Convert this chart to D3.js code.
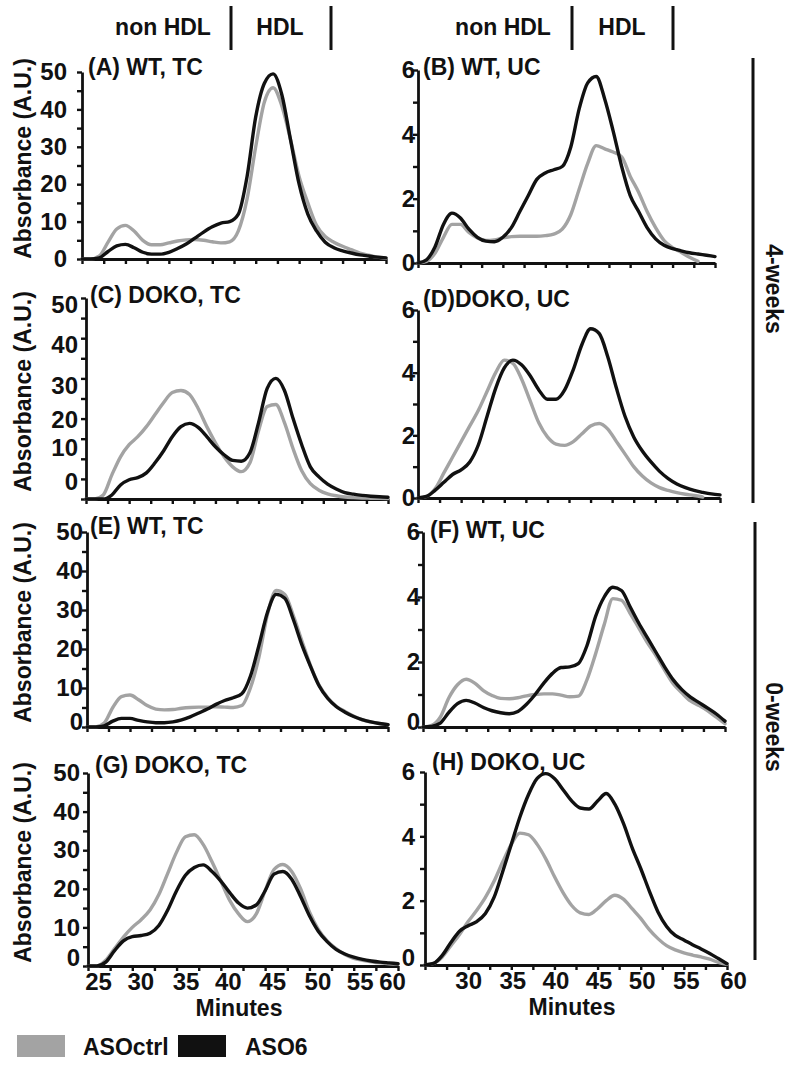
<!DOCTYPE html>
<html>
<head>
<meta charset="utf-8">
<script src="https://cdn.jsdelivr.net/npm/d3@7"></script>
<style>
  html, body { margin: 0; padding: 0; background: #fff; }
  svg text { font-family: "Liberation Sans", Arial, sans-serif; font-weight: bold; fill: #111; }
</style>
</head>
<body>
<svg id="chart" width="795" height="1066"></svg>
<script>
// ---------- data ----------
const minutes = [25,26,27,28,29,30,31,32,33,34,35,36,37,38,39,40,41,42,43,44,45,46,47,48,49,50,51,52,53,54,55,56,57,58,59,60];

const seriesNames = ["ASOctrl", "ASO6"];
const panelTitles = ["(A) WT, TC", "(B) WT, UC", "(C) DOKO, TC", "(D)DOKO, UC", "(E) WT, TC", "(F) WT, UC", "(G) DOKO, TC", "(H) DOKO, UC"];

// (A) WT, TC
const A_ctrl = [0,0,0.8,4.5,8,9,7.5,5,3.8,3.8,4.3,4.8,5.1,5.2,5,4.6,4.3,4.6,7.5,16,30,42,45.8,41,32,22,15,9,6,4.5,3.4,2.5,1.6,1,0.5,0.2];
const A_aso6 = [0,0,0.3,2,3.5,3.9,3,1.8,1.3,1.3,1.8,2.8,4,5.6,7.2,8.6,9.6,10,12,22,38,47,49.5,44,32,20,12,7.5,4.5,3,2.2,1.6,1.1,0.8,0.5,0.3];
// (B) WT, UC
const B_ctrl = [0,0.05,0.3,0.8,1.2,1.2,0.95,0.78,0.7,0.72,0.78,0.82,0.83,0.83,0.83,0.85,0.9,1.05,1.5,2.3,3.1,3.65,3.55,3.45,3.3,2.7,2.2,1.6,1.1,0.7,0.48,0.33,0.18,0.05,null,null];
const B_aso6 = [0,0.1,0.5,1.2,1.55,1.4,1.05,0.8,0.68,0.66,0.8,1.1,1.6,2.1,2.6,2.8,2.9,3.0,3.6,4.8,5.6,5.8,5.1,4.1,3.0,2.1,1.6,1.1,0.75,0.55,0.45,0.38,0.32,0.28,0.24,0.2];
// (C) DOKO, TC
const C_ctrl = [0,0,1,6,10.5,13.5,15.5,18,21,24,26.5,27,26,22.5,18,14,10.5,8,6.8,9,17,23,23.5,19,12.5,7,3.8,2.2,1.3,0.8,0.5,0.35,0.25,0.2,0.15,0.1];
const C_aso6 = [0,0,0,1,3.5,4.8,5.3,6.5,9,12,15.5,18,18.8,17.8,15.5,13,11,9.6,9.4,11.5,19,27.5,30,27,20,13.5,8,5.5,3.7,2.5,1.6,1.2,0.9,0.7,0.55,0.45];
// (D) DOKO, UC
const D_ctrl = [0,0.05,0.3,0.8,1.3,1.8,2.3,2.8,3.4,4.0,4.4,4.3,3.8,3.1,2.4,1.95,1.72,1.68,1.8,2.05,2.3,2.38,2.2,1.8,1.4,1.0,0.7,0.48,0.33,0.24,0.17,0.12,0.08,0.03,null,null];
const D_aso6 = [0,0.05,0.25,0.5,0.75,0.9,1.15,1.7,2.6,3.5,4.15,4.4,4.25,3.9,3.45,3.15,3.15,3.45,4.1,4.9,5.4,5.25,4.5,3.5,2.6,1.95,1.5,1.15,0.85,0.62,0.45,0.33,0.24,0.18,0.13,0.1];
// (E) WT, TC
const E_ctrl = [0,0,1,5,7.8,8.2,7,5.5,4.6,4.4,4.5,4.8,5,5.1,5.1,5.2,5.1,5,5.5,10,18,29,35,34,28.5,22,15.7,10.7,7.5,5.3,4,2.8,1.8,1.3,0.9,0.6];
const E_aso6 = [0,0,0.3,1.5,2.2,2.2,1.7,1.3,1.1,1.1,1.3,1.8,2.6,3.6,4.6,5.8,6.8,7.5,8.5,13,21,29.5,34,33,27.5,21,15.5,10.5,7.3,5.2,3.8,2.7,1.9,1.3,0.9,0.6];
// (F) WT, UC
const F_ctrl = [0,0.05,0.3,0.9,1.3,1.47,1.35,1.12,0.97,0.88,0.87,0.9,0.96,1.0,1.02,1.02,0.98,0.93,0.95,1.45,2.25,3.15,3.95,3.9,3.5,3.05,2.6,2.2,1.75,1.33,1.05,0.8,0.66,0.5,0.3,0.1];
const F_aso6 = [0,0.02,0.12,0.45,0.72,0.82,0.74,0.6,0.5,0.44,0.41,0.48,0.7,1.0,1.35,1.65,1.83,1.85,1.95,2.5,3.4,4.0,4.3,4.2,3.7,3.2,2.75,2.3,1.85,1.45,1.15,0.92,0.75,0.58,0.4,0.18];
// (G) DOKO, TC
const G_ctrl = [0,0,1.5,4.5,7.5,10,12,14.5,18.5,24,29.5,33.5,34,31.5,27,22,17,13.5,11.5,13.5,19.5,25,26.3,24.5,20,14,9.5,6.5,4.5,3,2,1.5,1.1,0.8,0.6,0.5];
const G_aso6 = [0,0,1,4,6.5,7.6,7.9,8.5,10.5,14.5,19.5,23.5,25.5,26.2,24.5,22,19,16.3,15,15.8,19.5,23.8,24.5,22.5,18,13,9,6.3,4.3,3.1,2.3,1.7,1.3,1,0.8,0.6];
// (H) DOKO, UC
const H_ctrl = [0,0.05,0.25,0.6,0.95,1.35,1.7,2.1,2.6,3.2,3.75,4.1,4.05,3.75,3.3,2.75,2.25,1.85,1.62,1.57,1.75,2.0,2.17,2.05,1.75,1.45,1.1,0.82,0.6,0.47,0.38,0.31,0.25,0.18,0.08,0.02];
const H_aso6 = [0,0.05,0.3,0.7,1.05,1.22,1.35,1.6,2.1,2.9,3.75,4.6,5.3,5.8,5.95,5.8,5.45,5.1,4.88,4.85,5.1,5.33,5.0,4.4,3.65,3.0,2.3,1.65,1.2,0.92,0.78,0.63,0.5,0.36,0.2,0.04];

const panelData = [[A_ctrl, A_aso6],[B_ctrl, B_aso6],[C_ctrl, C_aso6],[D_ctrl, D_aso6],[E_ctrl, E_aso6],[F_ctrl, F_aso6],[G_ctrl, G_aso6],[H_ctrl, H_aso6]];

const tcTicks = [0,5,10,15,20,25,30,35,40,45,50];
const tcLabels = [0,10,20,30,40,50];
const ucTicks = [0,1,2,3,4,5,6];
const ucLabels = [0,2,4,6];
const xTicks = [25,27.5,30,32.5,35,37.5,40,42.5,45,47.5,50,52.5,55,57.5,60];
const xLabelsLeft = [25,30,35,40,45,50,55,60];
const xLabelsRight = [30,35,40,45,50,55,60];

// ---------- layout ----------
const colors = ["#a3a3a3", "#111111"];
const layout = [
  {x0:82,  x1:386, y0:72,  y1:259, pad:10, tx:88,  ty:75,  kind:"TC"},
  {x0:418, x1:715, y0:70,  y1:263, pad:-2, tx:423, ty:75,  kind:"UC"},
  {x0:86,  x1:388, y0:298, y1:499, pad:3,  tx:90,  ty:303, kind:"TC",
   ydy:{50:7, 40:7, 30:7, 20:1, 10:-11, 0:-17}},
  {x0:418, x1:720, y0:310, y1:498, pad:-2, tx:423, ty:307, kind:"UC"},
  {x0:87,  x1:388, y0:532, y1:727, pad:-1, tx:90,  ty:534, kind:"TC", ydy:{0:-5}},
  {x0:423, x1:725, y0:532, y1:727, pad:-2, tx:430, ty:538, kind:"UC", ydy:{0:-5}},
  {x0:88,  x1:398, y0:773, y1:966, pad:3,  tx:95,  ty:773, kind:"TC", ydy:{0:-8},
   xl:xLabelsLeft, xdx:{25:10, 30:8, 35:9, 40:7, 45:7, 50:8, 55:6, 60:-6}},
  {x0:425, x1:727, y0:772, y1:965, pad:5,  tx:432, ty:770, kind:"UC", ydy:{0:-7},
   xl:xLabelsRight, xdx:{30:0, 35:1, 40:1, 45:1, 50:1, 55:2, 60:6}}
];

const svg = d3.select("#chart");
const FS = 23;
const TFS = 24;

layout.forEach((L, i) => {
  const x = d3.scaleLinear().domain([25, 60]).range([L.x0, L.x1]);
  const y = d3.scaleLinear().domain(L.kind === "TC" ? [0, 50] : [0, 6]).range([L.y1, L.y0]);
  const g = svg.append("g");

  // y axis
  const yTicks = L.kind === "TC" ? tcTicks : ucTicks;
  const yLab = L.kind === "TC" ? tcLabels : ucLabels;
  const ya = g.append("g").attr("transform", `translate(${L.x0},0)`)
    .call(d3.axisLeft(y).tickValues(yTicks).tickSizeInner(5).tickSizeOuter(0).tickPadding(L.pad)
      .tickFormat(d => yLab.includes(d) ? d : ""));
  // x axis
  const xl = L.xl || [];
  const xa = g.append("g").attr("transform", `translate(0,${L.y1})`)
    .call(d3.axisBottom(x).tickValues(xTicks).tickSizeInner(5).tickSizeOuter(0).tickPadding(2)
      .tickFormat(d => xl.includes(d) ? d : ""));
  [ya, xa].forEach(a => {
    a.select(".domain").attr("stroke", "#111").attr("stroke-width", 2.8);
    a.selectAll(".tick line").attr("stroke", "#111").attr("stroke-width", 2.4);
    a.selectAll(".tick text").style("font-size", TFS + "px").style("font-family", "Liberation Sans, Arial, sans-serif").style("font-weight", "bold").attr("fill", "#111");
  });
  if (L.ydy) {
    ya.selectAll(".tick text").attr("transform", d => `translate(0,${L.ydy[d] || 0})`);
  }
  if (L.xl) {
    xa.selectAll(".tick text").attr("transform", d => `translate(${(L.xdx && L.xdx[d]) || 0},0)`);
    g.append("text").attr("x", (L.x0 + L.x1) / 2 - 4).attr("y", L.y1 + 50)
      .attr("text-anchor", "middle").style("font-size", FS + "px").text("Minutes");
  }

  // curves
  const line = d3.line().defined(d => d[1] !== null)
    .x(d => x(d[0])).y(d => y(d[1])).curve(d3.curveMonotoneX);
  panelData[i].forEach((vals, s) => {
    g.append("path").datum(minutes.map((m, k) => [m, vals[k]]))
      .attr("d", line).attr("fill", "none").attr("stroke", colors[s])
      .attr("stroke-width", 3.4).attr("stroke-linejoin", "round").attr("stroke-linecap", "round");
  });

  // title
  g.append("text").attr("x", L.tx).attr("y", L.ty).style("font-size", FS + "px").text(panelTitles[i]);

  // y title for left column
  if (L.kind === "TC") {
    g.append("text").attr("transform", `translate(31,${(L.y0 + L.y1) / 2 - 7}) rotate(-90)`)
      .attr("text-anchor", "middle").style("font-size", FS + "px").text("Absorbance (A.U.)");
  }
});

// header
const headers = [
  {t1: 163, l1: 231, t2: 280, l2: 331},
  {t1: 503, l1: 572, t2: 622, l2: 673}
];
headers.forEach(h => {
  svg.append("text").attr("x", h.t1).attr("y", 35).attr("text-anchor", "middle").style("font-size", FS + "px").text("non HDL");
  svg.append("text").attr("x", h.t2).attr("y", 35).attr("text-anchor", "middle").style("font-size", FS + "px").text("HDL");
  [h.l1, h.l2].forEach(lx => svg.append("line").attr("x1", lx).attr("x2", lx).attr("y1", 6).attr("y2", 50)
    .attr("stroke", "#111").attr("stroke-width", 3));
});

// right side groups
const groups = [
  {label: "4-weeks", x: 753, y0: 58, y1: 503, ty: 289},
  {label: "0-weeks", x: 755, y0: 522, y1: 960, ty: 727}
];
groups.forEach(gp => {
  svg.append("line").attr("x1", gp.x).attr("x2", gp.x).attr("y1", gp.y0).attr("y2", gp.y1)
    .attr("stroke", "#111").attr("stroke-width", 3);
  svg.append("text").attr("transform", `translate(774,${gp.ty}) rotate(90)`)
    .attr("text-anchor", "middle").attr("dominant-baseline", "central")
    .style("font-size", FS + "px").text(gp.label);
});

// legend
const legend = [{x: 17, tx: 83}, {x: 178, tx: 245}];
legend.forEach((lg, s) => {
  svg.append("rect").attr("x", lg.x).attr("y", 1035).attr("width", 48).attr("height", 22).attr("fill", colors[s]);
  svg.append("text").attr("x", lg.tx).attr("y", 1055).style("font-size", FS + "px").text(seriesNames[s]);
});
</script>
</body>
</html>
